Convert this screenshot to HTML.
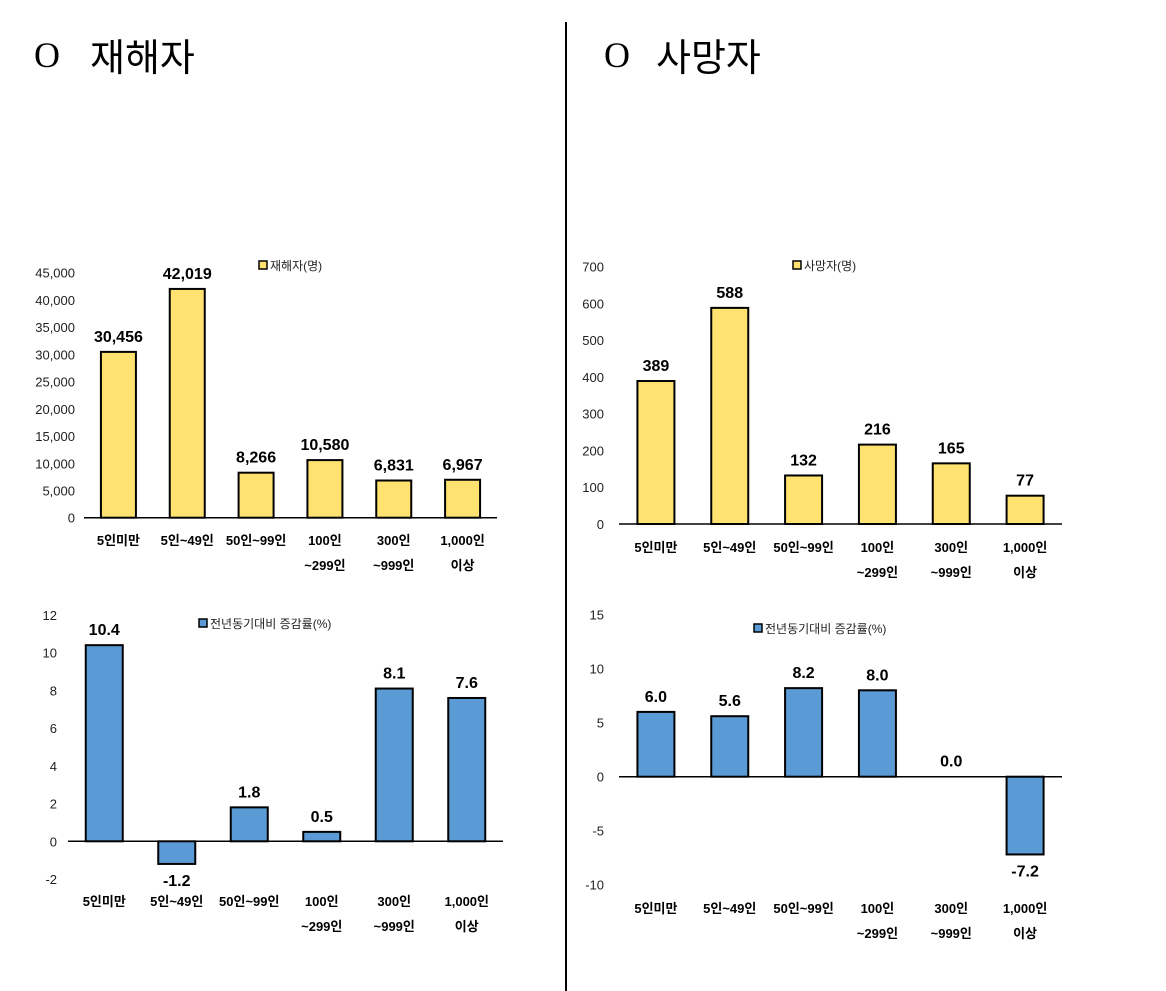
<!DOCTYPE html>
<html><head><meta charset="utf-8">
<style>
html,body{margin:0;padding:0;background:#fff;}
body{width:1166px;height:991px;overflow:hidden;position:relative;font-family:"Liberation Sans","Noto Sans CJK KR",sans-serif;}
.title{position:absolute;top:30px;font-size:38px;font-family:"Noto Sans CJK KR","WenQuanYi Zen Hei",sans-serif;color:#000;white-space:nowrap;line-height:50px;}
.o{position:absolute;top:30px;font-size:36px;font-family:"Liberation Serif",serif;line-height:50px;}
svg{position:absolute;left:0;top:0;}
</style></head>
<body>
<div class="o" style="left:34px;">O</div>
<div class="title" style="left:90px;">재해자</div>
<div class="o" style="left:604px;">O</div>
<div class="title" style="left:656px;">사망자</div>
<div style="position:absolute;left:565px;top:22px;width:2px;height:969px;background:#000;"></div>
<svg id="svg" width="1166" height="991"></svg>
<script>
const categories1 = ["5인미만","5인~49인","50인~99인","100인|~299인","300인|~999인","1,000인|이상"];
const injuredValues = [30456,42019,8266,10580,6831,6967];
const injuredLabels = ["30,456","42,019","8,266","10,580","6,831","6,967"];
const injuredTicks = [0,5000,10000,15000,20000,25000,30000,35000,40000,45000];
const injuredTickLabels = ["0","5,000","10,000","15,000","20,000","25,000","30,000","35,000","40,000","45,000"];
const injuredRate = [10.4,-1.2,1.8,0.5,8.1,7.6];
const injuredRateLabels = ["10.4","-1.2","1.8","0.5","8.1","7.6"];
const injuredRateTicks = [-2,0,2,4,6,8,10,12];
const deathValues = [389,588,132,216,165,77];
const deathLabels = ["389","588","132","216","165","77"];
const deathTicks = [0,100,200,300,400,500,600,700];
const deathRate = [6.0,5.6,8.2,8.0,0.0,-7.2];
const deathRateLabels = ["6.0","5.6","8.2","8.0","0.0","-7.2"];
const deathRateTicks = [-10,-5,0,5,10,15];

const NS="http://www.w3.org/2000/svg";
const svg=document.getElementById('svg');
function mk(tag,attrs,parent){const e=document.createElementNS(NS,tag);for(const k in attrs)e.setAttribute(k,attrs[k]);(parent||svg).appendChild(e);return e;}

function chart(cfg){
  const g=mk('g',{});
  
  
  const y=v=>cfg.y0+(v-cfg.vmin)/(cfg.vmax-cfg.vmin)*(cfg.y1-cfg.y0);
  const bw=(cfg.x1-cfg.x0)/cfg.cats.length;
  cfg.ticks.forEach((t,i)=>{
    const tx=mk('text',{x:cfg.tickX,y:y(t)+5,'text-anchor':'end','font-size':13,fill:'#222'},g);
    tx.textContent=cfg.tickLabels?cfg.tickLabels[i]:String(t);
    
    
  });
  cfg.vals.forEach((v,i)=>{
    const cx=cfg.x0+bw*(i+0.5);
    const top=Math.min(y(v),y(0)),bot=Math.max(y(v),y(0));
    if(v!==0){
      const r=mk('rect',{x:cx-cfg.barW/2,y:top,width:cfg.barW,height:bot-top,fill:cfg.color,stroke:'#000','stroke-width':2},g);
      
      
    }
    const ly=v<0?bot+22:top-10;
    const t=mk('text',{x:cx,y:ly,'text-anchor':'middle','font-size':16,'font-weight':'bold',fill:'#000'},g);
    t.textContent=cfg.labels[i];
    
    
    cfg.cats[i].split('|').forEach((line,j)=>{
      const c=mk('text',{x:cx,y:cfg.catY+j*25,'text-anchor':'middle','font-size':13,'font-weight':'bold',fill:'#000'},g);
      c.textContent=line;
      
      
    });
  });
  const ax=mk('line',{x1:cfg.x0,x2:cfg.x1,y1:y(0),y2:y(0),stroke:'#000','stroke-width':1.5},g);
  
  
  const lr=mk('rect',{x:cfg.legX,y:cfg.legY-9,width:8,height:8,fill:cfg.color,stroke:'#000','stroke-width':1.5},g);
  
  
  const lt=mk('text',{x:cfg.legX+11,y:cfg.legY,'font-size':12,fill:'#222'},g);
  lt.textContent=cfg.legend;
  
  
}
const Y='#FFE270',B='#5B9BD5';
chart({name:'injured-chart',cats:categories1,vals:injuredValues,labels:injuredLabels,ticks:injuredTicks,tickLabels:injuredTickLabels,vmin:0,vmax:45000,y0:517.7,y1:272.7,x0:84,x1:497,barW:35,color:Y,tickX:75,catY:545,legX:259,legY:270,legend:'재해자(명)'});
chart({name:'injured-rate-chart',cats:categories1,vals:injuredRate,labels:injuredRateLabels,ticks:injuredRateTicks,vmin:0,vmax:12,y0:841.3,y1:615,x0:68,x1:503,barW:37,color:B,tickX:57,catY:906,legX:199,legY:628,legend:'전년동기대비 증감률(%)'});
chart({name:'death-chart',cats:categories1,vals:deathValues,labels:deathLabels,ticks:deathTicks,vmin:0,vmax:700,y0:524,y1:266.7,x0:619,x1:1062,barW:37,color:Y,tickX:604,catY:552,legX:793,legY:270,legend:'사망자(명)'});
chart({name:'death-rate-chart',cats:categories1,vals:deathRate,labels:deathRateLabels,ticks:deathRateTicks,vmin:0,vmax:15,y0:776.7,y1:614.7,x0:619,x1:1062,barW:37,color:B,tickX:604,catY:913,legX:754,legY:633,legend:'전년동기대비 증감률(%)'});
</script>
</body></html>
